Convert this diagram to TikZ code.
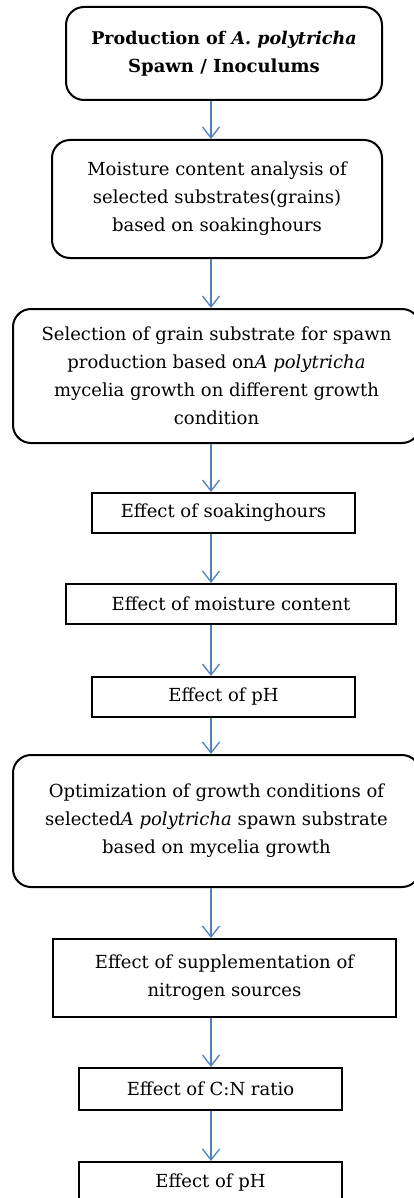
\documentclass[tikz,border=0pt]{standalone}
\usepackage{fontspec}
\setmainfont{DejaVu Serif}
\usetikzlibrary{arrows.meta}
\definecolor{flowblue}{RGB}{79,129,189}

\begin{document}
\begin{tikzpicture}[x=1pt, y=-1pt,
        every node/.style={font=\fontsize{18}{28}\selectfont, align=center, inner sep=0pt},
        roundbox/.style={draw=black, line width=2pt, rounded corners=18pt},
        plainbox/.style={draw=black, line width=2pt},
        flow/.style={draw=flowblue, line width=1.3pt, -{Straight Barb[length=11pt,width=17pt]}}]
    \useasboundingbox (0,0) rectangle (413,1198);
    \coordinate (axis) at (211,0);

    %spawn production
    \node[roundbox, minimum width=316pt, minimum height=93pt] (prod) at (224,53.5)
        {\fontsize{17.5}{28}\selectfont\textbf{Production of \textit{A. polytricha}}\\\textbf{Spawn / Inoculums}};
    \node[roundbox, minimum width=330pt, minimum height=118pt] (moist) at (217,199)
        {Moisture content analysis of\\selected substrates(grains)\\based on soakinghours};
    \node[roundbox, minimum width=407pt, minimum height=134pt] (select) at (216.5,376)
        {Selection of grain substrate for spawn\\production based on\textit{A polytricha}\\mycelia growth on different growth\\condition};

    %growth conditions
    \node[plainbox, minimum width=263pt, minimum height=40pt] (soak) at (223.5,513) {Effect of soakinghours};
    \node[plainbox, minimum width=330pt, minimum height=40pt] (water) at (231,604) {Effect of moisture content};
    \node[plainbox, minimum width=263pt, minimum height=40pt] (ph) at (223.5,697) {Effect of pH};

    %optimization
    \node[roundbox, minimum width=407pt, minimum height=132pt] (optim) at (216.5,821)
        {Optimization of growth conditions of\\selected\textit{A polytricha} spawn substrate\\based on mycelia growth};
    \node[plainbox, minimum width=343pt, minimum height=78pt] (nitro) at (224.5,978)
        {Effect of supplementation of\\nitrogen sources};
    \node[plainbox, minimum width=263pt, minimum height=42pt] (ratio) at (210.5,1089) {Effect of C:N ratio};
    \node[plainbox, minimum width=263pt, minimum height=42pt] (phtwo) at (210.5,1183) {Effect of pH};

    %arrows
    \draw[flow] (prod.south -| axis) -- (moist.north -| axis);
    \draw[flow] (moist.south -| axis) -- (select.north -| axis);
    \draw[flow] (select.south -| axis) -- (soak.north -| axis);
    \draw[flow] (soak.south -| axis) -- (water.north -| axis);
    \draw[flow] (water.south -| axis) -- (ph.north -| axis);
    \draw[flow] (ph.south -| axis) -- (optim.north -| axis);
    \draw[flow] (optim.south -| axis) -- (nitro.north -| axis);
    \draw[flow] (nitro.south -| axis) -- (ratio.north -| axis);
    \draw[flow] (ratio.south -| axis) -- (phtwo.north -| axis);
\end{tikzpicture}
\end{document}
